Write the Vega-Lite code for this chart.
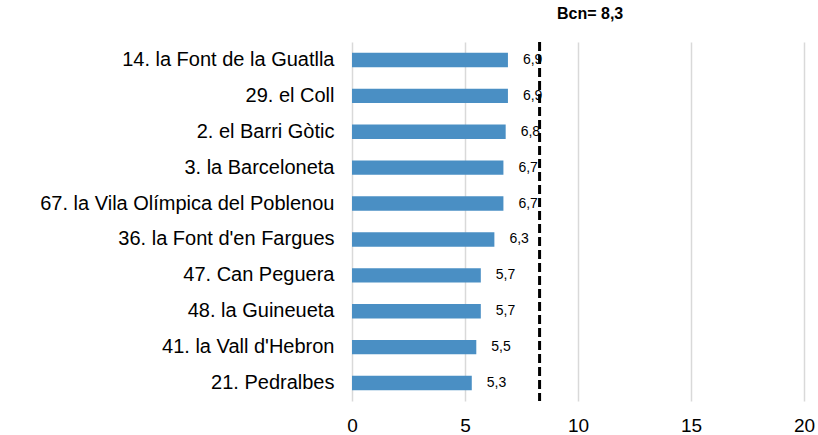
{
  "$schema": "https://vega.github.io/schema/vega-lite/v6.json",
  "width": 452,
  "height": 359,
  "autosize": {"type": "none"},
  "padding": {"left": 352, "top": 42, "right": 14, "bottom": 34},
  "background": "white",
  "config": {
    "view": {"stroke": null},
    "font": "Liberation Sans"
  },
  "title": {
    "text": "Bcn= 8,3",
    "anchor": "start",
    "frame": "group",
    "dx": 205,
    "offset": 19,
    "fontSize": 16,
    "fontWeight": "bold",
    "font": "Liberation Sans",
    "color": "black"
  },
  "data": {
    "values": [
      {"barri": "14. la Font de la Guatlla", "valor": 6.9, "etiqueta": "6,9"},
      {"barri": "29. el Coll", "valor": 6.9, "etiqueta": "6,9"},
      {"barri": "2. el Barri Gòtic", "valor": 6.8, "etiqueta": "6,8"},
      {"barri": "3. la Barceloneta", "valor": 6.7, "etiqueta": "6,7"},
      {"barri": "67. la Vila Olímpica del Poblenou", "valor": 6.7, "etiqueta": "6,7"},
      {"barri": "36. la Font d'en Fargues", "valor": 6.3, "etiqueta": "6,3"},
      {"barri": "47. Can Peguera", "valor": 5.7, "etiqueta": "5,7"},
      {"barri": "48. la Guineueta", "valor": 5.7, "etiqueta": "5,7"},
      {"barri": "41. la Vall d'Hebron", "valor": 5.5, "etiqueta": "5,5"},
      {"barri": "21. Pedralbes", "valor": 5.3, "etiqueta": "5,3"}
    ]
  },
  "encoding": {
    "y": {
      "field": "barri",
      "type": "nominal",
      "sort": null,
      "scale": {"paddingInner": 0, "paddingOuter": 0},
      "axis": {
        "title": null,
        "domain": false,
        "ticks": false,
        "labelFontSize": 20,
        "labelColor": "black",
        "labelPadding": 18,
        "labelLimit": 400,
        "labelFont": "Liberation Sans"
      }
    }
  },
  "layer": [
    {
      "mark": {"type": "bar", "color": "#4A8FC4", "height": {"band": 0.4}},
      "encoding": {
        "x": {
          "field": "valor",
          "type": "quantitative",
          "scale": {"domain": [0, 20], "nice": false},
          "axis": {
            "title": null,
            "values": [0, 5, 10, 15, 20],
            "domain": false,
            "ticks": false,
            "grid": true,
            "gridColor": "#d9d9d9",
            "gridWidth": 1.5,
            "labelFlush": false,
            "labelFontSize": 19,
            "labelColor": "black",
            "labelPadding": 15,
            "labelFont": "Liberation Sans"
          }
        }
      }
    },
    {
      "mark": {"type": "text", "align": "left", "dx": 15, "fontSize": 14, "color": "black", "font": "Liberation Sans"},
      "encoding": {
        "x": {"field": "valor", "type": "quantitative"},
        "text": {"field": "etiqueta"}
      }
    },
    {
      "data": {"values": [{"bcn": 8.3}]},
      "mark": {"type": "rule", "color": "black", "strokeWidth": 3, "strokeDash": [9, 4]},
      "encoding": {
        "x": {"field": "bcn", "type": "quantitative"},
        "y": null
      }
    }
  ]
}
